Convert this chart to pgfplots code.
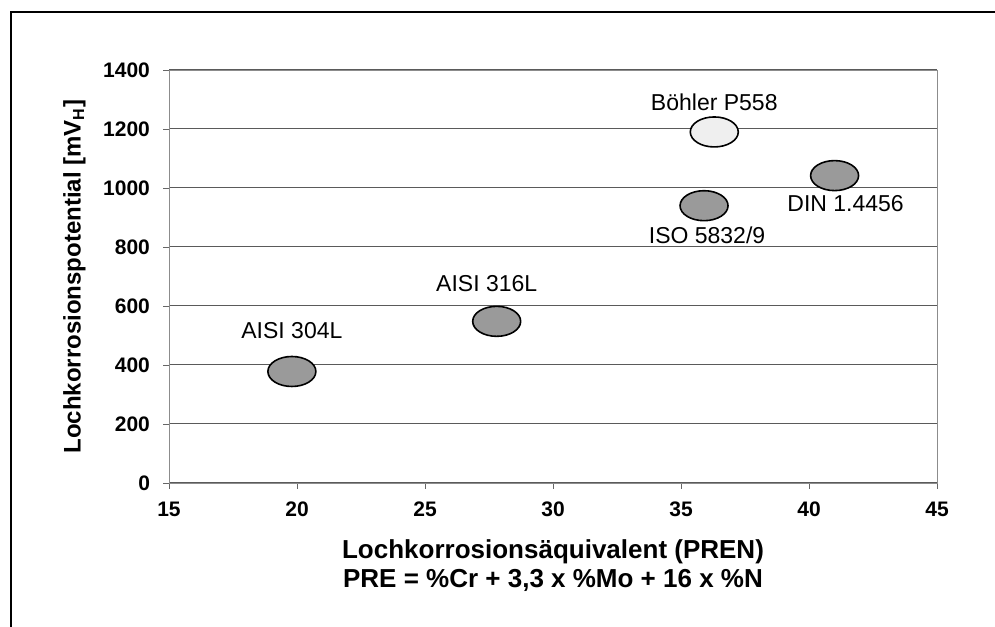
\documentclass[border=0pt]{standalone}
\usepackage{pgfplots}
\pgfplotsset{compat=1.18}
\usepackage{fontspec}
\setmainfont{Liberation Sans}

\definecolor{markgray}{HTML}{9A9A9A}
\definecolor{marklight}{HTML}{EFEFEF}
\definecolor{gridgray}{HTML}{5A5A5A}

\begin{document}
\begin{tikzpicture}
  % 1 px des Originals = 0.5pt
  \useasboundingbox (0pt,0pt) rectangle (497.5pt,313pt);
  % Rahmen (rechts und unten abgeschnitten)
  \draw[line width=1.3pt] (5.5pt,-10pt) -- (5.5pt,307pt) -- (510pt,307pt);

  \begin{axis}[
      at={(84.5pt,71.5pt)}, anchor=south west,
      scale only axis,
      width=384pt, height=206.5pt,
      xmin=15, xmax=45, ymin=0, ymax=1400,
      xtick={15,20,...,45},
      ytick={0,200,...,1400},
      ymajorgrids,
      grid style={gridgray, line width=0.5pt},
      axis line style={black!45, line width=0.4pt},
      tick style={black!60, line width=0.4pt},
      tick align=outside,
      major tick length=3pt,
      xtick pos=bottom, ytick pos=left,
      /pgf/number format/assume math mode=true,
      /pgf/number format/1000 sep={},
      ticklabel style={font=\fontsize{10.5}{12}\selectfont\bfseries},
      xticklabel style={yshift=-3pt},
      yticklabel style={xshift=-3pt},
      ylabel={\textbf{Lochkorrosionspotential [mV\textsubscript{H}]}},
      ylabel style={font=\fontsize{12}{14}\selectfont, yshift=2pt},
      xlabel={\textbf{Lochkorrosionsäquivalent (PREN)}\\\textbf{PRE = \%Cr + 3,3 x \%Mo + 16 x \%N}},
      xlabel style={font=\fontsize{13}{14.5}\selectfont, align=center, yshift=-4.5pt},
      clip=false,
    ]

    % Stähle: PREN, Lochkorrosionspotential
    \addplot[only marks, mark=*, mark size=7.5pt,
      mark options={xscale=1.6, fill=markgray, draw=black, line width=0.8pt}]
      coordinates {(19.8,378) (27.8,548) (35.9,940) (41.0,1042)};
    \addplot[only marks, mark=*, mark size=7.5pt,
      mark options={xscale=1.6, fill=marklight, draw=black, line width=0.8pt}]
      coordinates {(36.3,1190)};

    \begin{scope}[font=\fontsize{11.5}{13}\selectfont]
      \node at (axis cs:19.8,378) [yshift=20.5pt] {AISI 304L};
      \node at (axis cs:27.8,548) [xshift=-5pt, yshift=19pt] {AISI 316L};
      \node at (axis cs:36.3,1190) [yshift=15pt] {Böhler P558};
      \node at (axis cs:35.9,940) [xshift=1.5pt, yshift=-15pt] {ISO 5832/9};
      \node at (axis cs:41.0,1042) [xshift=5.5pt, yshift=-14pt] {DIN 1.4456};
    \end{scope}
  \end{axis}
\end{tikzpicture}
\end{document}
